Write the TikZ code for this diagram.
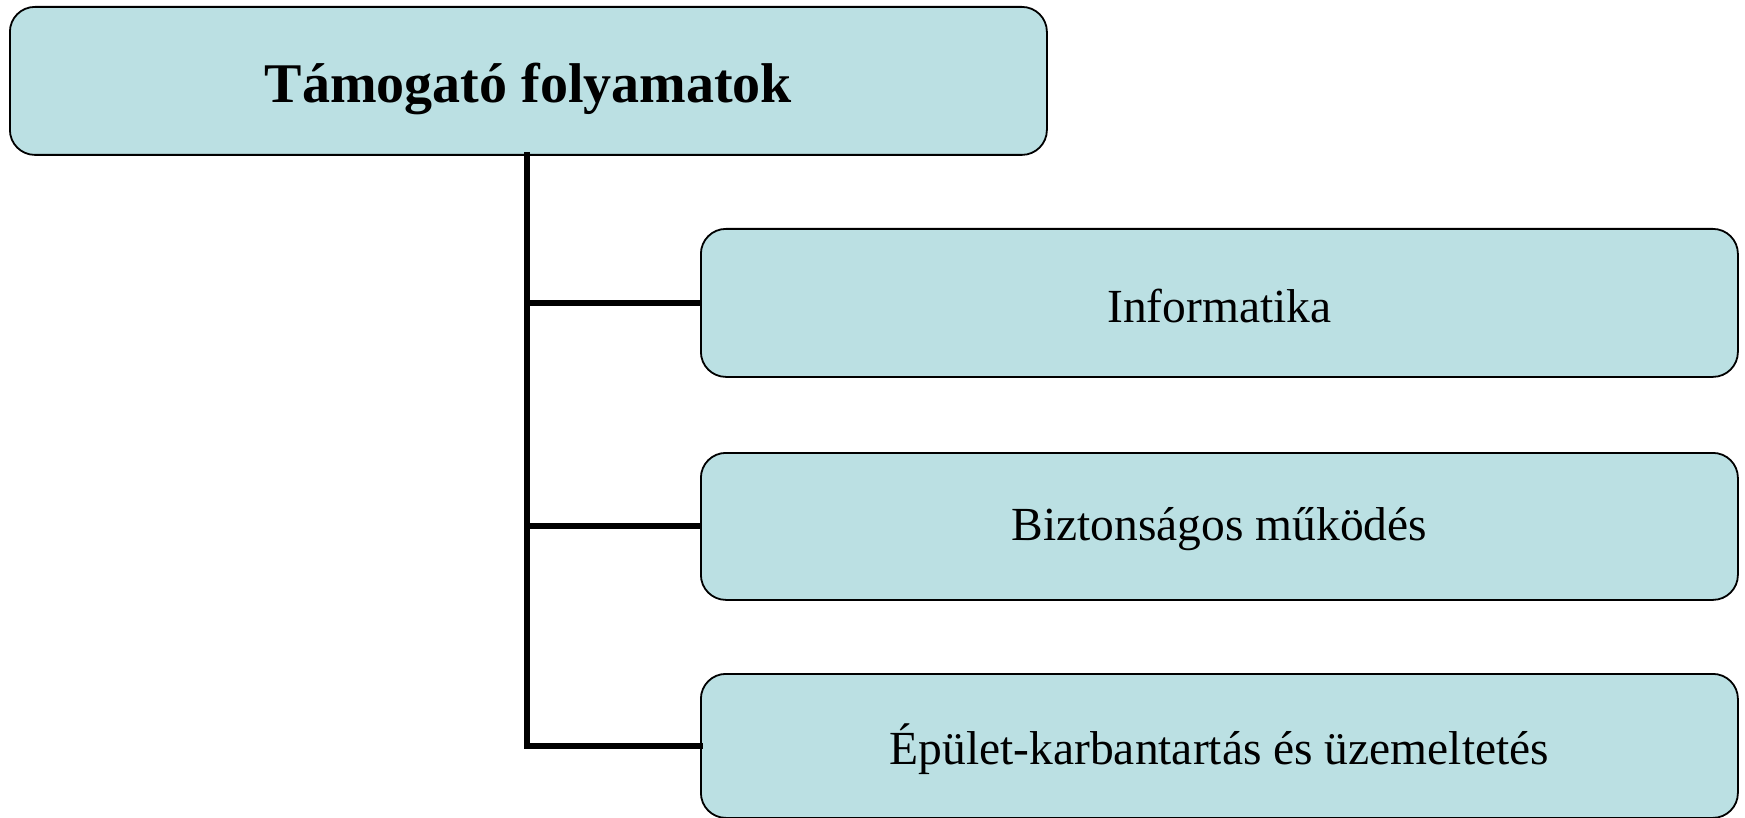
\documentclass[tikz,border=0pt]{standalone}
\usepackage{fontspec}
\setmainfont{Liberation Serif}
\definecolor{boxfill}{HTML}{BBE0E3}
\begin{document}
\begin{tikzpicture}[x=1pt,y=-1pt,
  box/.style={draw=black,line width=1.8pt,fill=boxfill,rounded corners=25pt,inner sep=0pt,anchor=north west},
  conn/.style={line width=6pt,draw=black}]
\useasboundingbox (0,0) rectangle (1745,818);
\node[box,minimum width=1037pt,minimum height=148pt] (top) at (9,6) {};
\node[yshift=-8pt] at (top.center) {\fontsize{56}{64}\selectfont\bfseries Támogató folyamatok};
\node[box,minimum width=1037pt,minimum height=148pt] (c1) at (700,228) {};
\node[yshift=-3pt] at (c1.center) {\fontsize{47.5}{56}\selectfont Informatika};
\node[box,minimum width=1037pt,minimum height=147pt] (c2) at (700,452) {};
\node[yshift=-3pt] at (c2.center) {\fontsize{47.5}{56}\selectfont Biztonságos működés};
\node[box,minimum width=1037pt,minimum height=144pt] (c3) at (700,673) {};
\node[yshift=-3pt] at (c3.center) {\fontsize{47.5}{56}\selectfont Épület-karbantartás és üzemeltetés};
\coordinate (trunk) at (527,155);
\draw[conn] (trunk) |- (c1.west);
\draw[conn] (trunk) |- (c2.west);
\draw[conn,line cap=rect] (trunk) |- (c3.west);
\end{tikzpicture}
\end{document}
